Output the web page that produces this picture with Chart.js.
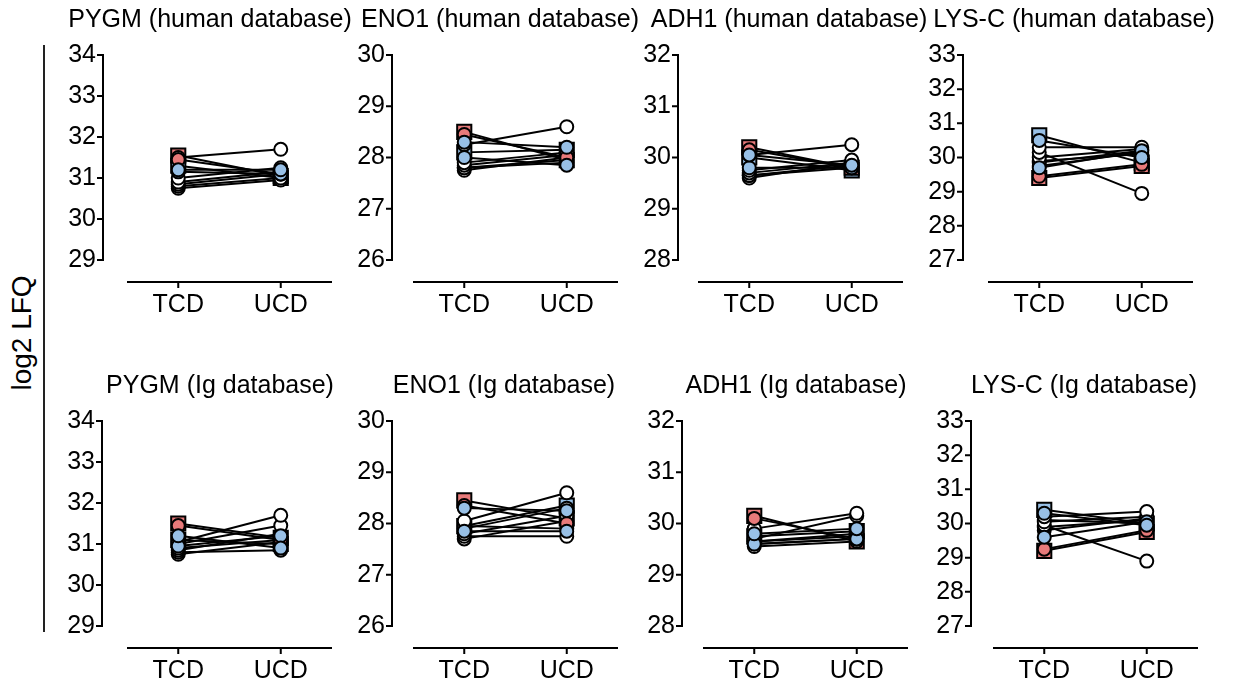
<!DOCTYPE html>
<html>
<head>
<meta charset="utf-8">
<script src="https://cdn.jsdelivr.net/npm/chart.js@4.4.1/dist/chart.umd.min.js"></script>
<style>
    html, body { margin: 0; padding: 0; background: #fff; overflow: hidden; }
    body { width: 1233px; height: 685px; position: relative; font-family: "Liberation Sans", Arial, sans-serif; }
    canvas { position: absolute; }
    #y-title {
        position: absolute; left: 22px; top: 333px;
        transform: translate(-50%, -50%) rotate(-90deg);
        font-size: 28px; color: #000; white-space: nowrap;
    }
    #y-rule { position: absolute; left: 43px; top: 45px; width: 2px; height: 587px; background: #222; }
</style>
</head>
<body>
<div id="y-title">log2 LFQ</div>
<div id="y-rule"></div>

<canvas id="c0" width="350" height="320"></canvas>
<canvas id="c1" width="350" height="320"></canvas>
<canvas id="c2" width="350" height="320"></canvas>
<canvas id="c3" width="350" height="320"></canvas>
<canvas id="c4" width="350" height="320"></canvas>
<canvas id="c5" width="350" height="320"></canvas>
<canvas id="c6" width="350" height="320"></canvas>
<canvas id="c7" width="350" height="320"></canvas>

<script>
// x categories
const conditions = ['TCD', 'UCD'];

// marker group of each paired sample
const sampleGroups = ['redSquare', 'redCircle', 'blueSquare', 'blueCircle', 'blueCircle',
    'white', 'white', 'white', 'white', 'white', 'white'];

// log2 LFQ per sample, human database
const pygmHumanTCD = [31.55, 31.45, 31.3, 31.2, 31.15, 31.5, 31.0, 30.9, 30.85, 30.8, 30.75];
const pygmHumanUCD = [31.05, 31.1, 31.0, 31.2, 31.1, 31.7, 31.25, 31.15, 31.1, 31.0, 30.95];
const eno1HumanTCD = [28.5, 28.45, 28.1, 28.3, 28.0, 28.25, 27.9, 27.85, 27.8, 27.8, 27.75];
const eno1HumanUCD = [27.95, 28.0, 28.15, 28.2, 27.85, 28.6, 28.1, 28.05, 27.95, 27.9, 28.0];
const adh1HumanTCD = [30.2, 30.15, 30.0, 30.05, 29.8, 30.05, 29.75, 29.7, 29.65, 29.65, 29.6];
const adh1HumanUCD = [29.8, 29.8, 29.75, 29.85, 29.8, 30.25, 29.95, 29.9, 29.85, 29.8, 29.9];
const lyscHumanTCD = [29.4, 29.45, 30.65, 30.5, 29.7, 30.3, 30.15, 30.0, 29.9, 29.85, 29.75];
const lyscHumanUCD = [29.75, 29.8, 29.85, 30.0, 30.2, 30.3, 28.95, 30.25, 30.1, 30.2, 30.15];

// log2 LFQ per sample, Ig database
const pygmIgTCD = [31.5, 31.45, 31.1, 31.2, 30.95, 31.05, 31.0, 30.9, 30.85, 30.8, 30.75];
const pygmIgUCD = [31.15, 31.1, 31.0, 30.9, 31.2, 31.7, 31.45, 31.1, 31.25, 30.85, 31.05];
const eno1IgTCD = [28.45, 28.35, 27.95, 28.3, 27.85, 28.05, 27.95, 27.9, 27.8, 27.75, 27.7];
const eno1IgUCD = [28.1, 28.0, 28.35, 28.25, 27.85, 28.6, 27.9, 28.3, 28.15, 27.75, 28.05];
const adh1IgTCD = [30.15, 30.1, 29.75, 29.8, 29.6, 29.9, 29.7, 29.65, 29.65, 29.6, 29.55];
const adh1IgUCD = [29.65, 29.7, 29.85, 29.9, 29.7, 30.2, 30.15, 29.8, 29.75, 29.7, 29.65];
const lyscIgTCD = [29.2, 29.25, 30.4, 30.3, 29.6, 30.2, 30.05, 29.95, 29.9, 30.1, 29.8];
const lyscIgUCD = [29.75, 29.8, 30.0, 29.95, 30.05, 30.35, 30.2, 28.9, 30.1, 30.0, 30.15];

// y ranges: [min, max]
const pygmRange = [29, 34];
const eno1Range = [26, 30];
const adh1Range = [28, 32];
const lyscRange = [27, 33];

// left/top: canvas position; gap: y-axis offset from the plot; titleX: title centre within the canvas
const panels = [
    { id: 'c0', title: 'PYGM (human database)', tcd: pygmHumanTCD, ucd: pygmHumanUCD, range: pygmRange, left: 17, top: 0, gap: 24, titleX: 193 },
    { id: 'c1', title: 'ENO1 (human database)', tcd: eno1HumanTCD, ucd: eno1HumanUCD, range: eno1Range, left: 303, top: 0, gap: 21, titleX: 197 },
    { id: 'c2', title: 'ADH1 (human database)', tcd: adh1HumanTCD, ucd: adh1HumanUCD, range: adh1Range, left: 588, top: 0, gap: 20, titleX: 201 },
    { id: 'c3', title: 'LYS-C (human database)', tcd: lyscHumanTCD, ucd: lyscHumanUCD, range: lyscRange, left: 878, top: 0, gap: 25, titleX: 196 },
    { id: 'c4', title: 'PYGM (Ig database)', tcd: pygmIgTCD, ucd: pygmIgUCD, range: pygmRange, left: 17, top: 366, gap: 25, titleX: 203 },
    { id: 'c5', title: 'ENO1 (Ig database)', tcd: eno1IgTCD, ucd: eno1IgUCD, range: eno1Range, left: 303, top: 366, gap: 21, titleX: 201 },
    { id: 'c6', title: 'ADH1 (Ig database)', tcd: adh1IgTCD, ucd: adh1IgUCD, range: adh1Range, left: 593, top: 366, gap: 21, titleX: 203 },
    { id: 'c7', title: 'LYS-C (Ig database)', tcd: lyscIgTCD, ucd: lyscIgUCD, range: lyscRange, left: 883, top: 366, gap: 22, titleX: 201 },
];

const RED = 'rgb(232, 122, 122)';
const BLUE = 'rgb(152, 192, 230)';
const FONT = '"Liberation Sans", Arial, sans-serif';

// higher order is drawn underneath
const markerStyle = {
    redSquare:  { shape: 'rect', fill: RED, radius: 10, order: 4 },
    blueSquare: { shape: 'rect', fill: BLUE, radius: 10, order: 4 },
    white:      { shape: 'circle', fill: '#fff', radius: 6.5, order: 3 },
    redCircle:  { shape: 'circle', fill: RED, radius: 6.5, order: 2 },
    blueCircle: { shape: 'circle', fill: BLUE, radius: 6.5, order: 1 },
};

// Prism-like detached axes plus the panel title
const offsetAxes = {
    id: 'offsetAxes',
    afterDraw(chart, args, opts) {
        const { ctx, chartArea, scales: { x, y } } = chart;
        const yLineX = chartArea.left - opts.gap;
        const xLineY = chartArea.bottom + 22;
        ctx.save();
        ctx.strokeStyle = '#000';
        ctx.lineWidth = 2;
        ctx.lineCap = 'butt';

        ctx.beginPath();
        ctx.moveTo(yLineX, y.getPixelForValue(y.max) - 1);
        ctx.lineTo(yLineX, y.getPixelForValue(y.min) + 1);
        y.ticks.forEach(t => {
            const py = y.getPixelForValue(t.value);
            ctx.moveTo(yLineX - 6, py);
            ctx.lineTo(yLineX, py);
        });

        ctx.moveTo(chartArea.left, xLineY);
        ctx.lineTo(chartArea.right, xLineY);
        conditions.forEach((c, i) => {
            const px = x.getPixelForValue(i);
            ctx.moveTo(px, xLineY);
            ctx.lineTo(px, xLineY + 6);
        });
        ctx.stroke();

        ctx.fillStyle = '#000';
        ctx.font = '25px ' + FONT;
        ctx.textAlign = 'center';
        ctx.textBaseline = 'middle';
        ctx.fillText(opts.title, opts.titleX, chartArea.top - 35);
        ctx.restore();
    }
};

const buildDatasets = (tcd, ucd) => sampleGroups.map((g, i) => {
    const s = markerStyle[g];
    return {
        data: [tcd[i], ucd[i]],
        borderColor: '#000',
        borderWidth: 2,
        pointStyle: s.shape,
        pointRadius: s.radius,
        pointBackgroundColor: s.fill,
        pointBorderColor: '#000',
        pointBorderWidth: 2,
        order: s.order,
        clip: false,
    };
});

panels.forEach(p => {
    const canvas = document.getElementById(p.id);
    canvas.style.left = p.left + 'px';
    canvas.style.top = p.top + 'px';

    new Chart(canvas.getContext('2d'), {
        type: 'line',
        data: { labels: conditions, datasets: buildDatasets(p.tcd, p.ucd) },
        options: {
            responsive: false,
            animation: false,
            layout: { padding: { top: 55, right: 35, left: 0, bottom: 0 } },
            plugins: {
                legend: { display: false },
                tooltip: { enabled: false },
                offsetAxes: { gap: p.gap, title: p.title, titleX: p.titleX },
            },
            scales: {
                x: {
                    type: 'category',
                    offset: true,
                    grid: { display: false, drawTicks: false },
                    border: { display: false },
                    ticks: { color: '#000', padding: 30, font: { size: 25, family: FONT } },
                    afterFit: scale => { scale.height = 60; },
                },
                y: {
                    min: p.range[0],
                    max: p.range[1],
                    grid: { display: false, drawTicks: false },
                    border: { display: false },
                    ticks: { stepSize: 1, color: '#000', padding: p.gap + 7, font: { size: 25, family: FONT } },
                    afterFit: scale => { scale.width = 110; },
                },
            },
        },
        plugins: [offsetAxes],
    });
});
</script>
</body>
</html>
